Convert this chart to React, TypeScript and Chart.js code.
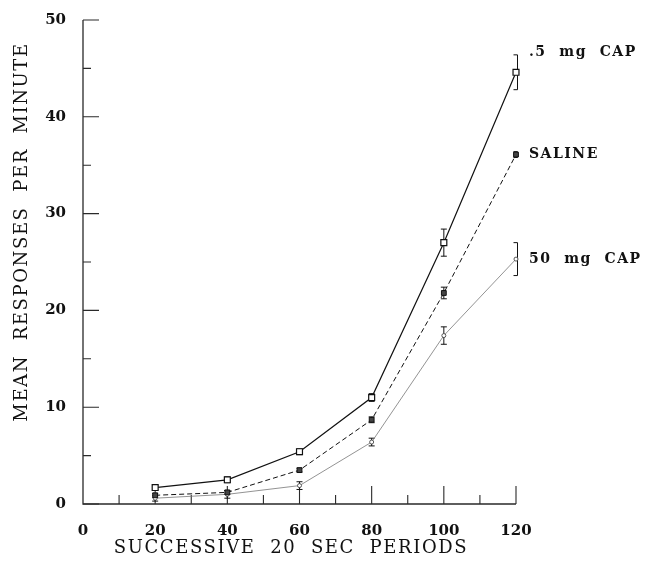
import React, { useEffect, useRef } from "react";
import { Chart, registerables } from "chart.js";

Chart.register(...registerables);

const periods = [20, 40, 60, 80, 100, 120];
const seriesNames = [".5  mg  CAP", "SALINE", "50  mg  CAP"];
const capLowMeans = [1.7, 2.5, 5.4, 11.0, 27.0, 44.6];
const capLowErrors = [0.2, 0.3, 0.3, 0.4, 1.4, 1.8];
const salineMeans = [0.9, 1.2, 3.5, 8.7, 21.8, 36.1];
const salineErrors = [0.2, 0.2, 0.2, 0.3, 0.6, 0.3];
const capHighMeans = [0.6, 1.0, 1.9, 6.4, 17.4, 25.3];
const capHighErrors = [0.3, 0.4, 0.4, 0.4, 0.9, 1.7];
const yMajorTicks = [0, 10, 20, 30, 40, 50];
const yMinorTicks = [5, 15, 25, 35, 45];
const xMajorTicks = [20, 40, 60, 80, 100, 120];
const xMinorTicks = [10, 30, 50, 70, 90, 110];
const xTitle = "SUCCESSIVE  20  SEC  PERIODS";
const yTitle = "MEAN  RESPONSES  PER  MINUTE";

const errorsBySeries = [capLowErrors, salineErrors, capHighErrors];
const labelOffsets = [-20, 0, 0];

const serif = "'DejaVu Serif', 'Liberation Serif', serif";

export default function App() {
  const ref = useRef<HTMLCanvasElement | null>(null);

  useEffect(() => {
    const canvas = ref.current;
    if (!canvas) return;

    const decor = {
      id: "decor",
      beforeDraw(chart: any) {
        const ctx = chart.ctx;
        ctx.save();
        ctx.fillStyle = "#ffffff";
        ctx.fillRect(0, 0, chart.width, chart.height);
        ctx.restore();
      },
      beforeDatasetsDraw(chart: any) {
        const ctx = chart.ctx;
        const xs = chart.scales.x;
        const ys = chart.scales.y;
        const x0 = xs.getPixelForValue(0);
        const x1 = xs.getPixelForValue(120);
        const y0 = ys.getPixelForValue(0);
        const y1 = ys.getPixelForValue(50);
        ctx.save();
        ctx.strokeStyle = "#2a2a2a";
        ctx.lineWidth = 1.3;
        ctx.beginPath();
        ctx.moveTo(x0, y1);
        ctx.lineTo(x0, y0);
        ctx.lineTo(x1, y0);
        ctx.stroke();
        ctx.lineWidth = 1.1;
        ctx.beginPath();
        yMajorTicks.forEach((v) => {
          const y = ys.getPixelForValue(v);
          ctx.moveTo(x0, y);
          ctx.lineTo(x0 + 16, y);
        });
        yMinorTicks.forEach((v) => {
          const y = ys.getPixelForValue(v);
          ctx.moveTo(x0, y);
          ctx.lineTo(x0 + 8, y);
        });
        xMajorTicks.forEach((v) => {
          const x = xs.getPixelForValue(v);
          ctx.moveTo(x, y0);
          ctx.lineTo(x, y0 - 18);
        });
        xMinorTicks.forEach((v) => {
          const x = xs.getPixelForValue(v);
          ctx.moveTo(x, y0);
          ctx.lineTo(x, y0 - 9);
        });
        ctx.stroke();

        // error bars
        chart.data.datasets.forEach((ds: any, di: number) => {
          const errs = errorsBySeries[di];
          ctx.strokeStyle = "#111";
          ctx.lineWidth = 1;
          ctx.setLineDash([]);
          ds.data.forEach((pt: any, i: number) => {
            const x = xs.getPixelForValue(pt.x);
            const yt = ys.getPixelForValue(pt.y + errs[i]);
            const yb = ys.getPixelForValue(pt.y - errs[i]);
            const last = i === ds.data.length - 1;
            ctx.beginPath();
            if (last) {
              const bx = x + 1.5;
              ctx.moveTo(bx - 4, yt);
              ctx.lineTo(bx, yt);
              ctx.lineTo(bx, yb);
              ctx.lineTo(bx - 4, yb);
            } else {
              ctx.moveTo(x, yt);
              ctx.lineTo(x, yb);
              ctx.moveTo(x - 3, yt);
              ctx.lineTo(x + 3, yt);
              ctx.moveTo(x - 3, yb);
              ctx.lineTo(x + 3, yb);
            }
            ctx.stroke();
          });
        });
        ctx.restore();
      },
      afterDraw(chart: any) {
        const ctx = chart.ctx;
        const xs = chart.scales.x;
        const ys = chart.scales.y;
        ctx.save();
        ctx.fillStyle = "#111";
        ctx.textBaseline = "middle";
        ctx.textAlign = "left";
        ctx.font = `bold 14px ${serif}`;
        (ctx as any).letterSpacing = "1.5px";
        chart.data.datasets.forEach((ds: any, di: number) => {
          const pt = ds.data[ds.data.length - 1];
          const x = xs.getPixelForValue(pt.x);
          const y = ys.getPixelForValue(pt.y) + labelOffsets[di];
          ctx.fillText(seriesNames[di], x + 13, y);
        });
        // axis titles
        ctx.font = `18px ${serif}`;
        ctx.textAlign = "center";
        (ctx as any).letterSpacing = "1.6px";
        ctx.fillText(xTitle, 291, 548);
        ctx.translate(22, 232);
        ctx.rotate(-Math.PI / 2);
        ctx.fillText(yTitle, 0, 0);
        ctx.restore();
      },
    };

    const mk = (vals: number[]) => vals.map((v, i) => ({ x: periods[i], y: v }));

    const chart = new Chart(canvas, {
      type: "line",
      data: {
        datasets: [
          {
            label: seriesNames[0],
            data: mk(capLowMeans),
            borderColor: "#111",
            borderWidth: 1.2,
            pointStyle: "rect",
            pointRadius: 4.2,
            pointBackgroundColor: "#fff",
            pointBorderColor: "#111",
            pointBorderWidth: 1.2,
            tension: 0,
            clip: false as any,
          },
          {
            label: seriesNames[1],
            data: mk(salineMeans),
            borderColor: "#111",
            borderWidth: 1,
            borderDash: [5, 3],
            pointStyle: "rect",
            pointRadius: 3.4,
            pointBackgroundColor: "#444",
            pointBorderColor: "#111",
            pointBorderWidth: 1,
            tension: 0,
            clip: false as any,
          },
          {
            label: seriesNames[2],
            data: mk(capHighMeans),
            borderColor: "#777",
            borderWidth: 0.8,
            pointStyle: "circle",
            pointRadius: 2,
            pointBackgroundColor: "#fff",
            pointBorderColor: "#333",
            pointBorderWidth: 0.8,
            tension: 0,
            clip: false as any,
          },
        ],
      },
      options: {
        responsive: false,
        animation: false,
        layout: { padding: { left: 0, top: 20, right: 141, bottom: 0 } },
        plugins: { legend: { display: false }, tooltip: { enabled: false } },
        scales: {
          x: {
            type: "linear",
            min: 0,
            max: 120,
            grid: { display: false, drawTicks: false },
            border: { display: false },
            ticks: {
              stepSize: 20,
              padding: 18,
              color: "#111",
              font: { family: serif, size: 15, weight: "bold" },
            },
            afterFit: (s: any) => {
              s.height = 61;
              s.paddingLeft = 0;
              s.paddingRight = 0;
            },
          },
          y: {
            type: "linear",
            min: 0,
            max: 50,
            grid: { display: false, drawTicks: false },
            border: { display: false },
            ticks: {
              stepSize: 10,
              padding: 17,
              color: "#111",
              font: { family: serif, size: 15, weight: "bold" },
            },
            afterFit: (s: any) => {
              s.width = 83;
              s.paddingTop = 0;
              s.paddingBottom = 0;
            },
          },
        },
      },
      plugins: [decor],
    });

    return () => chart.destroy();
  }, []);

  return (
    <div style={{ position: "absolute", left: 0, top: 0, width: 657, height: 565, background: "#fff" }}>
      <canvas ref={ref} width={657} height={565} />
    </div>
  );
}
